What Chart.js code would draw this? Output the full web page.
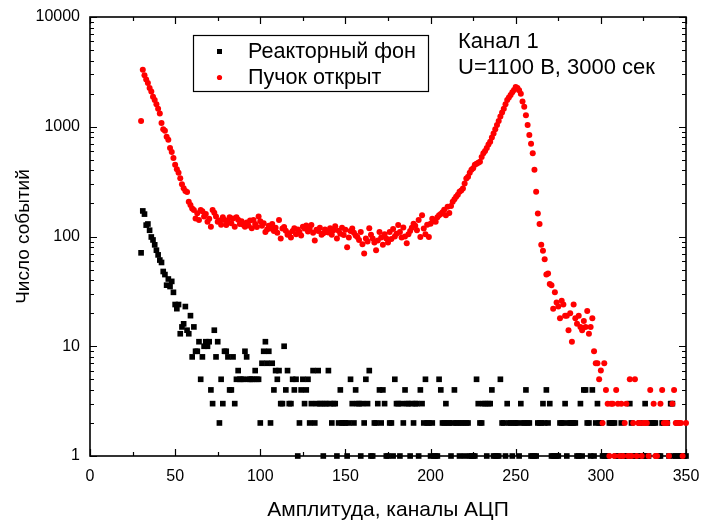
<!DOCTYPE html>
<html>
<head>
<meta charset="utf-8">
<script src="https://cdn.jsdelivr.net/npm/chart.js@4/dist/chart.umd.min.js"></script>
<style>
  html, body { margin: 0; padding: 0; background: #fff; }
  #wrap { width: 702px; height: 524px; position: relative; }
</style>
</head>
<body>
<div id="wrap"><canvas id="chart"></canvas></div>
<script>
// ADC channels 30..350, one count per channel
const firstChannel = 30;
const lastChannel = 350;

const xTickValues = [0, 50, 100, 150, 200, 250, 300, 350];
const yTickValues = [1, 10, 100, 1000, 10000];

const seriesNames = ['Реакторный фон', 'Пучок открыт'];
const noteLines = ['Канал 1', 'U=1100 В, 3000 сек'];

// Reactor background counts (channels 30..350)
const reactorCounts = [
  71, 171, 160, 127, 130, 114, 99, 93, 84, 75,
  68, 61, 58, 48, 45, 36, 41, 35, 39, 31,
  24, 22, 24, 13, 15, 16, 23, 14, 13, 19,
  8, 15, 9, 9, 11, 5, 8, 10, 11, 10,
  11, 4, 3, 14, 8, 11, 2, 5, 3, 9,
  9, 8, 4, 4, 8, 3, 5, 6, 5, 5,
  5, 9, 8, 5, 5, 5, 5, 6, 5, 5,
  2, 7, 9, 11, 7, 9, 2, 7, 4, 6,
  5, 6, 3, 3, 10, 4, 6, 3, 3, 5,
  4, 5, 1, 2, 4, 5, 3, 4, 5, 2,
  3, 6, 2, 3, 6, 3, 3, 1, 3, 3,
  6, 3, 2, 3, 3, 1, 2, 4, 2, 2,
  2, 1, 2, 5, 3, 2, 4, 3, 3, 1,
  3, 2, 5, 3, 6, 1, 1, 2, 2, 3,
  4, 2, 4, 3, 1, 1, 2, 2, 1, 5,
  3, 3, 1, 3, 2, 4, 3, 3, 1, 3,
  2, 3, 3, 1, 4, 3, 2, 5, 2, 2,
  1, 2, 1, 1, 1, 5, 4, 2, 2, 3,
  2, 2, 1, 2, 4, 2, 2, 1, 2, 2,
  1, 2, 2, 1, 1, 1, 1, 5, 3, 2,
  2, 3, 3, 1, 3, 3, 4, 1, 1, 1,
  1, 5, 2, 2, 1, 3, 2, 2, 1, 2,
  2, 2, 1, 3, 2, 2, 4, 2, 2, 1,
  1, 1, 1, 2, 2, 2, 3, 2, 4, 2,
  3, 1, 1, 1, 1, 1, 2, 2, 2, 3,
  1, 2, 2, 2, 2, 2, 1, 1, 3, 1,
  4, 4, 2, 2, 1, 4, 1, 2, 3, 2,
  2, 1, 1, 1, 1, 2, 2, 2, 2, 1,
  1, 1, 2, 1, 1, 1, 1, 3, 2, 1,
  1, 1, 1, 2, 1, 1, 3, 1, 1, 2,
  2, 2, 2, 1, 1, 1, 2, 2, 2, 2,
  1, 3, 3, 1, 1, 2, 1, 1, 1, 1,
  1
];

// Beam open counts (channels 30..350), 0 = empty channel
const beamCounts = [
  1130, 3300, 2950, 2700, 2500, 2250, 2090, 1880, 1750, 1600,
  1460, 1320, 1080, 950, 920, 810, 760, 640, 590, 520,
  450, 410, 380, 340, 300, 275, 260, 255, 207, 194,
  180, 174, 146, 163, 141, 174, 170, 152, 160, 136,
  145, 123, 174, 165, 152, 136, 140, 128, 150, 141,
  127, 138, 150, 132, 146, 123, 150, 142, 130, 138,
  128, 123, 134, 126, 140, 119, 141, 130, 122, 152,
  138, 125, 132, 110, 116, 125, 118, 130, 112, 120,
  108, 141, 96, 118, 122, 113, 104, 107, 98, 112,
  119, 105, 116, 110, 102, 123, 118, 126, 111, 117,
  127, 108, 92, 115, 112, 120, 104, 107, 116, 110,
  109, 119, 104, 114, 124, 96, 113, 106, 120, 103,
  115, 80, 98, 112, 118, 108, 102, 99, 93, 110,
  85, 70, 96, 90, 119, 104, 96, 88, 75, 92,
  110, 98, 84, 105, 96, 88, 110, 95, 117, 100,
  106, 127, 110, 98, 121, 100, 87, 105, 112, 120,
  131, 125, 114, 141, 99, 156, 118, 105, 128, 99,
  131, 145, 138, 136, 150, 156, 160, 166, 175, 156,
  187, 164, 190, 207, 218, 230, 240, 256, 262, 274,
  304, 337, 350, 380, 405, 418, 450, 460, 470, 480,
  530, 573, 600, 640, 690, 730, 800, 870, 950, 1040,
  1130, 1240, 1350, 1460, 1600, 1750, 1850, 1950, 2060, 2160,
  2300, 2250, 2150, 2000, 1700, 1520, 1270, 1040, 840, 700,
  575, 405, 256, 162, 130, 84, 74, 62, 45, 46,
  37, 36, 22, 31, 25, 23, 18, 26, 24, 19,
  19, 14, 20, 11, 24, 18, 16, 19, 15, 14,
  17, 15, 21, 13, 15, 18, 9, 7, 7, 5,
  6, 2, 7, 4, 3, 1, 3, 3, 1, 4,
  3, 1, 3, 1, 2, 3, 1, 5, 1, 2,
  5, 1, 2, 2, 1, 2, 2, 2, 1, 4,
  0, 3, 1, 1, 0, 3, 4, 2, 2, 2,
  1, 0, 3, 4, 2, 2, 2, 2, 1, 0,
  2
];

const FONT = "'Liberation Sans', Arial, sans-serif";

function toPoints(counts) {
  // empty channels cannot sit on a log axis, leave them out
  return counts
    .map((v, i) => ({ x: firstChannel + i, y: v }))
    .filter(p => p.y > 0 && p.x <= lastChannel);
}

// Frame with inward ticks on all four sides
const framePlugin = {
  id: 'frame',
  beforeDatasetsDraw(chart) {
    const { ctx, chartArea: a, scales: { x, y } } = chart;
    ctx.save();
    ctx.strokeStyle = '#000';
    ctx.lineWidth = 1.6;
    ctx.strokeRect(a.left, a.top, a.right - a.left, a.bottom - a.top);

    ctx.lineWidth = 1.2;
    ctx.beginPath();
    for (let v = 0; v <= 350; v += 25) {
      const px = Math.round(x.getPixelForValue(v)) + 0.5;
      const len = v % 50 === 0 ? 7 : 4;
      ctx.moveTo(px, a.bottom); ctx.lineTo(px, a.bottom - len);
      ctx.moveTo(px, a.top); ctx.lineTo(px, a.top + len);
    }
    for (let dec = 1; dec <= 10000; dec *= 10) {
      for (let m = 1; m <= 9; m++) {
        const v = dec * m;
        if (v > 10000) break;
        const py = Math.round(y.getPixelForValue(v)) + 0.5;
        const len = m === 1 ? 7 : 4;
        ctx.moveTo(a.left, py); ctx.lineTo(a.left + len, py);
        ctx.moveTo(a.right, py); ctx.lineTo(a.right - len, py);
      }
    }
    ctx.stroke();
    ctx.restore();
  }
};

// Legend box and run notes inside the plot
const notesPlugin = {
  id: 'notes',
  afterDraw(chart) {
    const { ctx } = chart;
    ctx.save();
    ctx.strokeStyle = '#000';
    ctx.lineWidth = 1.2;
    ctx.strokeRect(193.5, 35.5, 235, 56);

    ctx.fillStyle = '#000';
    ctx.fillRect(217, 49, 5, 5);
    ctx.fillStyle = '#ff0000';
    ctx.beginPath();
    ctx.arc(219.5, 77.5, 2.6, 0, Math.PI * 2);
    ctx.fill();

    ctx.fillStyle = '#000';
    ctx.font = '21.6px ' + FONT;
    ctx.textBaseline = 'middle';
    ctx.textAlign = 'left';
    ctx.fillText(seriesNames[0], 248, 52);
    ctx.fillText(seriesNames[1], 248, 78);

    ctx.font = '22px ' + FONT;
    ctx.fillText(noteLines[0], 458, 42);
    ctx.fillText(noteLines[1], 458, 68);
    ctx.restore();
  }
};

Chart.defaults.font.family = FONT;
Chart.defaults.color = '#000';

new Chart(document.getElementById('chart'), {
  type: 'scatter',
  data: {
    datasets: [
      {
        label: seriesNames[0],
        data: toPoints(reactorCounts),
        pointStyle: 'rect',
        pointRadius: 4,
        pointHoverRadius: 4,
        backgroundColor: '#000',
        borderWidth: 0,
        clip: false,
        order: 1
      },
      {
        label: seriesNames[1],
        data: toPoints(beamCounts),
        pointStyle: 'circle',
        pointRadius: 3,
        pointHoverRadius: 3,
        backgroundColor: '#ff0000',
        borderWidth: 0,
        clip: false,
        order: 0
      }
    ]
  },
  options: {
    responsive: true,
    maintainAspectRatio: false,
    animation: false,
    devicePixelRatio: 1,
    layout: { padding: { top: 17, right: 16, left: 0, bottom: 0 } },
    plugins: {
      legend: { display: false },
      tooltip: { enabled: false }
    },
    scales: {
      x: {
        type: 'linear',
        position: 'bottom',
        min: 0,
        max: 350,
        afterBuildTicks: s => { s.ticks = xTickValues.map(v => ({ value: v })); },
        afterFit: s => { s.height = 68; s.paddingLeft = 0; s.paddingRight = 0; },
        grid: { display: false, drawTicks: false, tickLength: 0 },
        border: { display: false },
        ticks: { font: { size: 16 }, color: '#000', padding: 11, maxRotation: 0 },
        title: {
          display: true,
          text: 'Амплитуда, каналы АЦП',
          font: { size: 21 },
          color: '#000',
          padding: { top: 0, bottom: 1 }
        }
      },
      y: {
        type: 'logarithmic',
        min: 1,
        max: 10000,
        afterBuildTicks: s => { s.ticks = yTickValues.map(v => ({ value: v })); },
        afterFit: s => { s.width = 90; s.paddingTop = 0; s.paddingBottom = 0; },
        grid: { display: false, drawTicks: false, tickLength: 0 },
        border: { display: false },
        ticks: {
          font: { size: 16 },
          color: '#000',
          padding: 10,
          callback: v => String(v)
        },
        title: {
          display: true,
          text: 'Число событий',
          font: { size: 19 },
          color: '#000',
          padding: { top: 12, bottom: 0 }
        }
      }
    }
  },
  plugins: [framePlugin, notesPlugin]
});
</script>
</body>
</html>
